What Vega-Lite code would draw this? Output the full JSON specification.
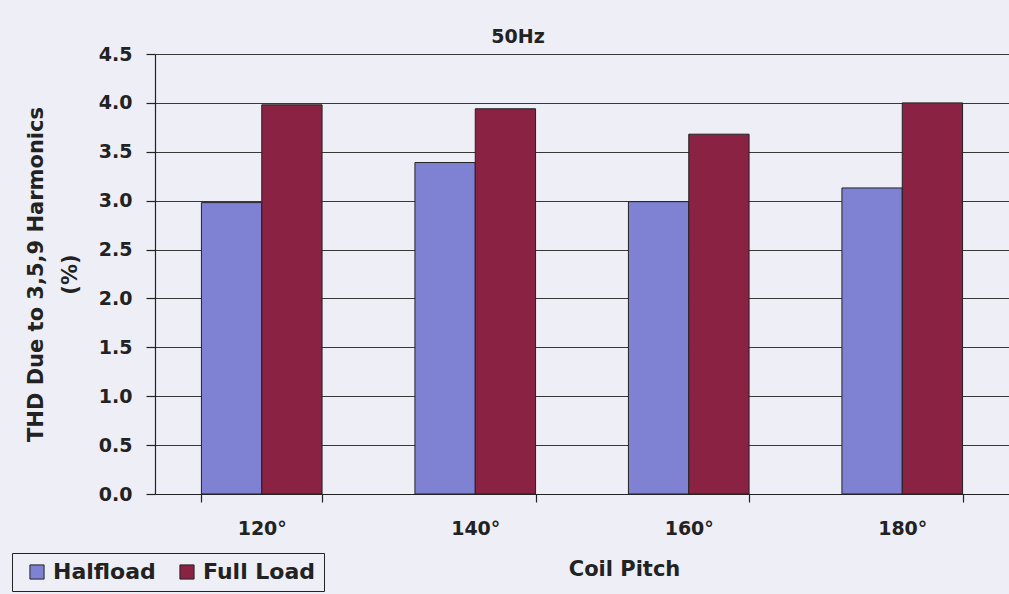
{
  "$schema": "https://vega.github.io/schema/vega-lite/v6.json",
  "autosize": "none",
  "width": 854,
  "height": 440,
  "padding": {"left": 155, "top": 54, "right": 0, "bottom": 100},
  "background": "#eeeef6",
  "data": {
    "values": [
      {"pitch": "120°", "load": "Halfload", "thd": 2.98},
      {"pitch": "120°", "load": "Full Load", "thd": 3.98},
      {"pitch": "140°", "load": "Halfload", "thd": 3.39},
      {"pitch": "140°", "load": "Full Load", "thd": 3.94},
      {"pitch": "160°", "load": "Halfload", "thd": 2.99},
      {"pitch": "160°", "load": "Full Load", "thd": 3.68},
      {"pitch": "180°", "load": "Halfload", "thd": 3.13},
      {"pitch": "180°", "load": "Full Load", "thd": 4.0}
    ]
  },
  "title": {
    "text": "50Hz",
    "font": "DejaVu Sans",
    "fontSize": 19,
    "fontWeight": "bold",
    "color": "#222222",
    "anchor": "middle",
    "frame": "group",
    "dx": -64,
    "offset": -2
  },
  "mark": {"type": "bar", "stroke": "#222222", "strokeWidth": 1},
  "encoding": {
    "x": {
      "field": "pitch",
      "type": "nominal",
      "sort": ["120°", "140°", "160°", "180°"],
      "scale": {"paddingInner": 0.435, "paddingOuter": 0.2175},
      "axis": {
        "title": "Coil Pitch",
        "labelAngle": 0,
        "tickBand": "extent",
        "tickSize": 8,
        "tickColor": "#222222",
        "domainColor": "#222222",
        "labelPadding": 17,
        "labelFont": "DejaVu Sans",
        "labelFontSize": 19,
        "labelFontWeight": "bold",
        "labelColor": "#222222",
        "titleFont": "DejaVu Sans",
        "titleFontSize": 21,
        "titleFontWeight": "bold",
        "titleColor": "#222222",
        "titleX": 469,
        "titleY": 75,
        "titleBaseline": "middle"
      }
    },
    "xOffset": {
      "field": "load",
      "type": "nominal",
      "sort": ["Halfload", "Full Load"],
      "scale": {"paddingInner": 0, "paddingOuter": 0}
    },
    "y": {
      "field": "thd",
      "type": "quantitative",
      "scale": {"domain": [0, 4.5], "nice": false},
      "axis": {
        "title": ["THD Due to 3,5,9 Harmonics", "(%)"],
        "values": [0, 0.5, 1, 1.5, 2, 2.5, 3, 3.5, 4, 4.5],
        "format": ".1f",
        "grid": true,
        "gridColor": "#222222",
        "gridOpacity": 0.9,
        "gridWidth": 1.2,
        "tickSize": 9,
        "tickColor": "#222222",
        "domainColor": "#222222",
        "labelPadding": 14,
        "labelFont": "DejaVu Sans",
        "labelFontSize": 19,
        "labelFontWeight": "bold",
        "labelColor": "#222222",
        "titleFont": "DejaVu Sans",
        "titleFontSize": 21,
        "titleFontWeight": "bold",
        "titleColor": "#222222",
        "titleLineHeight": 34,
        "titleX": -119,
        "titleY": 220,
        "titleAngle": -90,
        "titleAlign": "center",
        "titleBaseline": "middle"
      }
    },
    "color": {
      "field": "load",
      "type": "nominal",
      "sort": ["Halfload", "Full Load"],
      "scale": {"domain": ["Halfload", "Full Load"], "range": ["#7f82d2", "#8a2244"]},
      "legend": {
        "title": null,
        "orient": "none",
        "direction": "horizontal",
        "legendX": -143,
        "legendY": 499,
        "symbolType": "square",
        "symbolSize": 200,
        "symbolStrokeColor": "#222222",
        "symbolStrokeWidth": 1,
        "symbolOpacity": 1,
        "symbolOffset": 6,
        "labelFont": "DejaVu Sans",
        "labelFontSize": 22,
        "labelFontWeight": "bold",
        "labelColor": "#222222",
        "labelOffset": 5,
        "columnPadding": 14,
        "padding": 8,
        "strokeColor": "#222222",
        "fillColor": "#eeeef6"
      }
    }
  },
  "config": {
    "view": {"stroke": null},
    "axis": {"domainWidth": 1.2, "tickWidth": 1.2}
  }
}
